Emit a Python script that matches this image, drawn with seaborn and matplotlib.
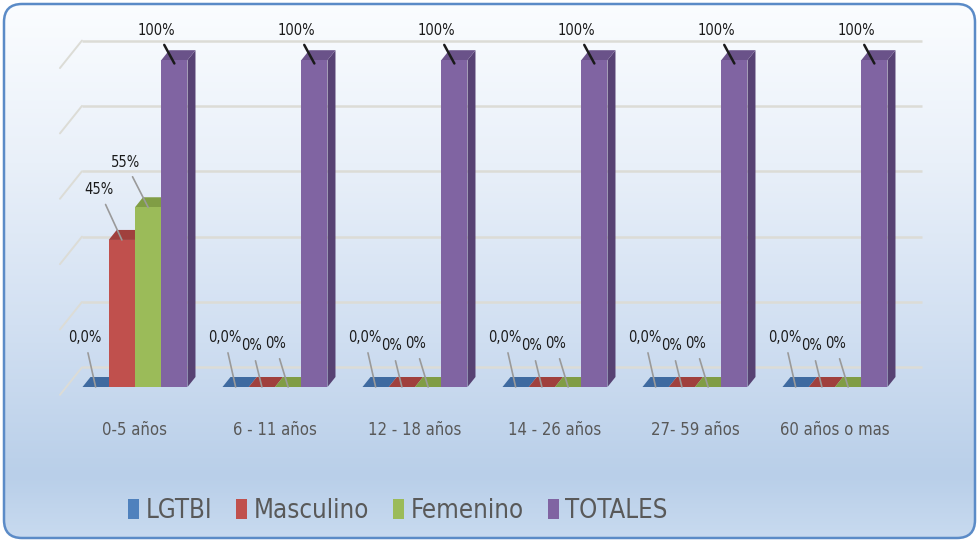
import os
import numpy as np
import pandas as pd
import matplotlib
matplotlib.use("Agg")
import matplotlib.pyplot as plt
import seaborn as sns
from matplotlib import font_manager as fm
from matplotlib.patches import Polygon, FancyBboxPatch, Patch
from matplotlib.colors import LinearSegmentedColormap

# ---------------- data ----------------
categories = ["0-5 años", "6 - 11 años", "12 - 18 años", "14 - 26 años", "27- 59 años", "60 años o mas"]
series_names = ["LGTBI", "Masculino", "Femenino", "TOTALES"]
lgtbi = [0, 0, 0, 0, 0, 0]
masculino = [45, 0, 0, 0, 0, 0]
femenino = [55, 0, 0, 0, 0, 0]
totales = [100, 100, 100, 100, 100, 100]
grid_values = [0, 20, 40, 60, 80, 100]

# ---------------- style ----------------
colors = ["#4F81BD", "#C0504D", "#9BBB59", "#8064A2"]
top_colors = ["#3f6aa0", "#a0403d", "#809d45", "#6a5289"]
side_colors = ["#355a88", "#8a3533", "#6c8a38", "#574273"]
label_fmt = ["{:.1f}%", "{:.0f}%", "{:.0f}%", "{:.0f}%"]

sns.set_theme(style="white")
plt.rcParams["font.family"] = ["DejaVu Sans"]

# look for a narrow / condensed font
font_path, scale = None, 1.0
files = fm.findSystemFonts()
prefs = [("LiberationSansNarrow-Regular", 1.2), ("DejaVuSansCondensed.ttf", 1.0),
         ("RobotoCondensed-Regular", 1.15)]
for key, sc in prefs:
    hit = [f for f in files if os.path.basename(f).startswith(key) or os.path.basename(f) == key]
    if hit:
        font_path, scale = hit[0], sc
        break


def fp(size):
    if font_path:
        return fm.FontProperties(fname=font_path, size=size * scale)
    return fm.FontProperties(family="DejaVu Sans", size=size * 0.92)


W, H = 979, 542
fig = plt.figure(figsize=(W / 100, H / 100), dpi=100)
fig.patch.set_facecolor("white")

# background panel with gradient and rounded border
bg = fig.add_axes([0, 0, 1, 1], zorder=-10)
bg.set_xlim(0, W)
bg.set_ylim(H, 0)
bg.axis("off")
cmap = LinearSegmentedColormap.from_list(
    "bg", [(0, "#fbfdff"), (0.3, "#e9f0f9"), (0.6, "#d2e0f2"), (0.88, "#b9cfe9"), (1, "#c9dbf0")])
grad = np.linspace(0, 1, 256)[:, None]
im = bg.imshow(grad, cmap=cmap, extent=[0, W, H, 0], aspect="auto")
box = FancyBboxPatch((4, 4), W - 8, H - 8, boxstyle="round,pad=0,rounding_size=18",
                     fc="none", ec="#5b8bc7", lw=1.8)
bg.add_patch(box)
im.set_clip_path(box)


# main axes: x=i -> 135+140*i px ; y=v -> 387-3.268*v px
def px(x):
    return 135 + 140 * x


xl, xr = -0.7, 5.65
yb, yt = -10, 112
bot_px, top_px = 387 + 3.268 * 10, 387 - 3.268 * 112
ax = fig.add_axes([px(xl) / W, 1 - bot_px / H, (px(xr) - px(xl)) / W, (bot_px - top_px) / H])
ax.set_facecolor("none")

df = pd.DataFrame({
    "cat": categories * 4,
    "serie": sum([[s] * len(categories) for s in series_names], []),
    "valor": lgtbi + masculino + femenino + totales,
})

sns.barplot(data=df, x="cat", y="valor", hue="serie", hue_order=series_names,
            palette=colors, width=0.75, saturation=1, legend=False, ax=ax,
            edgecolor="none", linewidth=0, zorder=3)

ax.set_xlim(xl, xr)
ax.set_ylim(yb, yt)

# back wall gridlines (3D look)
wall_dy = 6.0
x_back, x_front, x_end = -0.379, -0.536, 5.621
for v in grid_values:
    ax.plot([x_back, x_end], [v + wall_dy, v + wall_dy], color="#dcdcd6", lw=1.8, zorder=1,
            solid_capstyle="butt")
    ax.plot([x_front, x_back], [v - 2.4, v + wall_dy], color="#dcdcd6", lw=1.4, zorder=1)

# bar depth faces
dx, dy = 0.057, 3.06
for si, cont in enumerate(ax.containers):
    for p in cont.patches:
        x0, w, h = p.get_x(), p.get_width(), p.get_height()
        top = Polygon([(x0, h), (x0 + w, h), (x0 + w + dx, h + dy), (x0 + dx, h + dy)],
                      closed=True, fc=top_colors[si], ec="none", zorder=2)
        side = Polygon([(x0 + w, 0), (x0 + w + dx, dy), (x0 + w + dx, h + dy), (x0 + w, h)],
                       closed=True, fc=side_colors[si], ec="none", zorder=2)
        ax.add_patch(side)
        ax.add_patch(top)

# data labels with leader lines
for si, cont in enumerate(ax.containers):
    vals = [lgtbi, masculino, femenino, totales][si]
    for ci, p in enumerate(cont.patches):
        v = vals[ci]
        cx = p.get_x() + p.get_width() / 2
        txt = label_fmt[si].format(v).replace(".", ",")
        if si == 3:
            off, lc, lw, xy = (-18, 33), "#1a1a1a", 1.8, (cx, v - 1)
        elif v > 0:
            off, lc, lw, xy = (-23, 50 if si == 1 else 45), "#9a9a9a", 1.2, (cx, v)
        elif si == 0:
            off, lc, lw, xy = (-11, 49), "#9a9a9a", 1.2, (cx, v)
        elif si == 1:
            off, lc, lw, xy = (-10, 41), "#9a9a9a", 1.2, (cx, v)
        else:
            off, lc, lw, xy = (-13, 43), "#9a9a9a", 1.2, (cx, v)
        ax.annotate(txt, xy=xy, xytext=off, textcoords="offset pixels",
                    ha="center", va="center", fontproperties=fp(10.5), color="#1a1a1a", zorder=6,
                    arrowprops=dict(arrowstyle="-", color=lc, lw=lw, shrinkA=3, shrinkB=0))

ax.set_xticks(range(len(categories)))
ax.set_xticklabels(categories, color="#595959")
for t in ax.get_xticklabels():
    t.set_fontproperties(fp(12))
ax.tick_params(axis="x", length=0, pad=1)
ax.set_yticks([])
ax.set_xlabel("")
ax.set_ylabel("")
for s in ax.spines.values():
    s.set_visible(False)

handles = [Patch(facecolor=c, edgecolor="none") for c in colors]
fig.legend(handles, series_names, loc="center", bbox_to_anchor=(398 / W, 1 - 511 / H),
           ncol=4, frameon=False, prop=fp(18.5), handlelength=0.42, handleheight=0.85,
           handletextpad=0.25, columnspacing=0.95, labelcolor="#595959")

fig.savefig("out.png", dpi=100)
